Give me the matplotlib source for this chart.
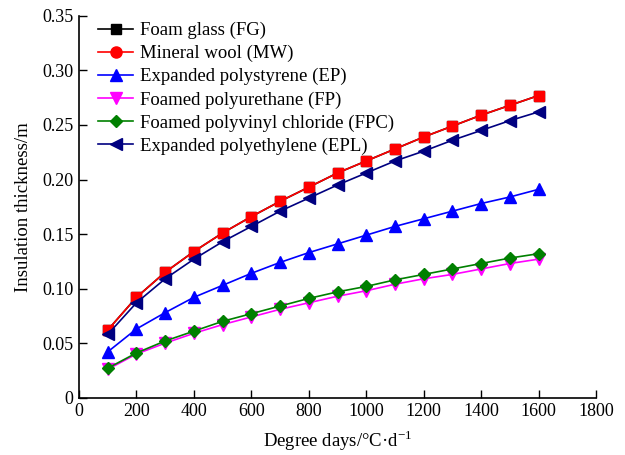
import numpy as np
import matplotlib.pyplot as plt
import matplotlib as mpl
from matplotlib.lines import Line2D

mpl.rcParams['font.family'] = ['Liberation Serif', 'DejaVu Serif']

degree_days = [100, 200, 300, 400, 500, 600, 700, 800, 900, 1000, 1100, 1200, 1300, 1400, 1500, 1600]

fg = [0.062, 0.092, 0.115, 0.134, 0.151, 0.166, 0.180, 0.193, 0.206, 0.217, 0.228, 0.239, 0.249, 0.259, 0.268, 0.277]
mw = [0.062, 0.092, 0.115, 0.134, 0.151, 0.166, 0.180, 0.193, 0.206, 0.217, 0.228, 0.239, 0.249, 0.259, 0.268, 0.277]
ep = [0.042, 0.063, 0.078, 0.092, 0.103, 0.114, 0.124, 0.133, 0.141, 0.149, 0.157, 0.164, 0.171, 0.178, 0.184, 0.191]
fp = [0.026, 0.040, 0.050, 0.059, 0.067, 0.074, 0.081, 0.087, 0.093, 0.098, 0.104, 0.109, 0.113, 0.118, 0.123, 0.127]
fpc = [0.027, 0.041, 0.052, 0.061, 0.070, 0.077, 0.084, 0.091, 0.097, 0.102, 0.108, 0.113, 0.118, 0.123, 0.128, 0.132]
epl = [0.058, 0.087, 0.109, 0.127, 0.143, 0.157, 0.171, 0.183, 0.195, 0.206, 0.217, 0.226, 0.236, 0.245, 0.254, 0.262]

labels = ['Foam glass (FG)', 'Mineral wool (MW)', 'Expanded polystyrene (EP)',
          'Foamed polyurethane (FP)', 'Foamed polyvinyl chloride (FPC)',
          'Expanded polyethylene (EPL)']
values = [fg, mw, ep, fp, fpc, epl]
colors = ['black', 'red', 'blue', 'magenta', 'green', 'navy']
markers = ['s', 'o', '^', 'v', 'D', '<']
# in the plot the MW points show as red squares sitting on the FG ones
plot_markers = ['s', 's', '^', 'v', 'D', '<']
sizes = {'s': 7, 'o': 8, '^': 8.5, 'v': 8.5, 'D': 6.5, '<': 8.5}

fig = plt.figure(figsize=(6.25, 4.55), dpi=100)
ax = fig.add_axes([0.1264, 0.126, 0.8272, 0.839])

for vals, c, m in zip(values, colors, plot_markers):
    ax.plot(degree_days, vals, color=c, marker=m, markersize=sizes[m], linewidth=1.2,
            markerfacecolor=c, markeredgecolor=c)

handles = [Line2D([], [], color=c, marker=m, markersize=sizes[m], linewidth=1.2,
                  markerfacecolor=c, markeredgecolor=c)
           for c, m in zip(colors, markers)]

ax.set_xlim(0, 1800)
ax.set_ylim(0, 0.35)
ax.set_xticks(np.arange(0, 1801, 200))
ax.set_yticks(np.arange(0, 0.351, 0.05))
ax.set_yticklabels(['0'] + ['%.2f' % v for v in np.arange(0.05, 0.351, 0.05)])
ax.spines['top'].set_visible(False)
ax.spines['right'].set_visible(False)
ax.spines['left'].set_linewidth(1.2)
ax.spines['bottom'].set_linewidth(1.2)
ax.tick_params(direction='in', length=5.5, width=1.0, labelsize=13, pad=4)
ax.set_xlabel('Degree days/°C·d$^{\\mathdefault{-1}}$', fontsize=13.5, labelpad=6)
ax.set_ylabel('Insulation thickness/m', fontsize=13.5, labelpad=7)

fig.legend(handles, labels, loc='upper left', bbox_to_anchor=(0.1568, 0.952),
           frameon=False, fontsize=13.5, handlelength=1.87, labelspacing=0.31,
           borderaxespad=0, borderpad=0, handletextpad=0.37)

plt.savefig('out.png', dpi=100)
